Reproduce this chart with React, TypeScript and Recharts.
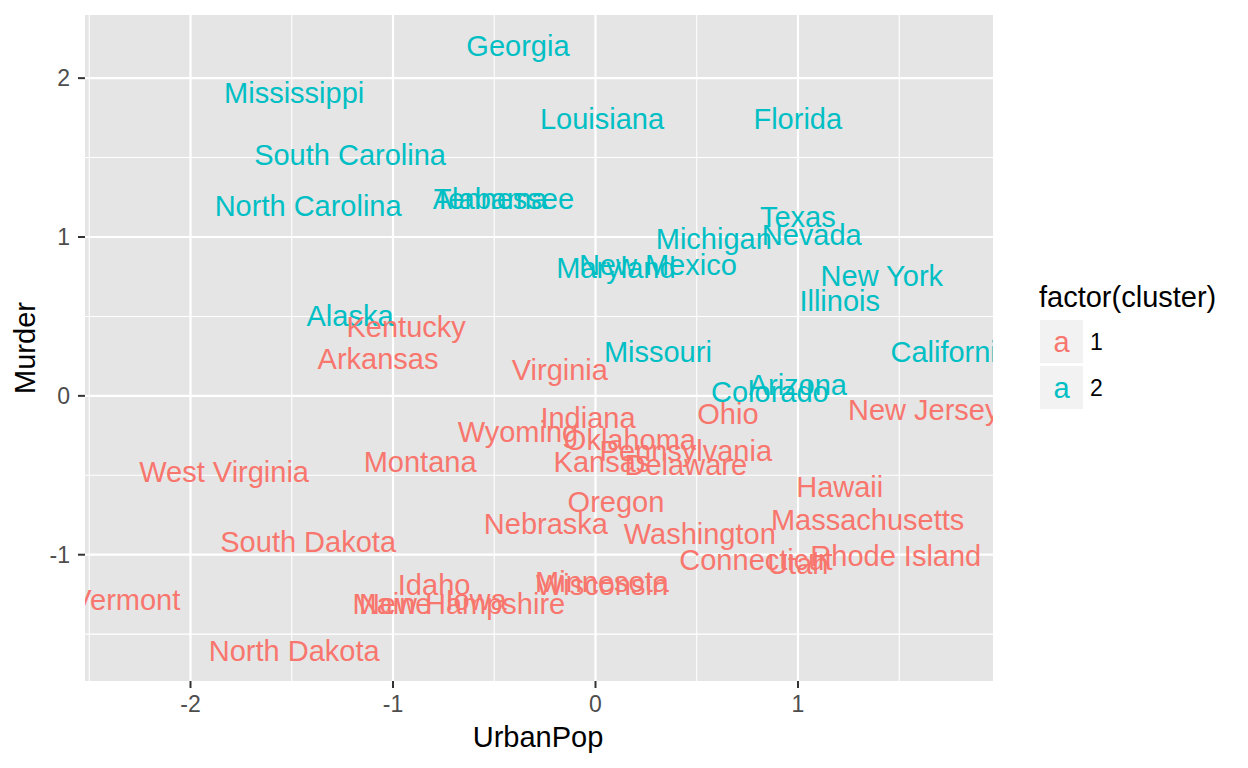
import React from 'react';
import { ScatterChart, Scatter, XAxis, YAxis, CartesianGrid, Customized } from 'recharts';

const states = [
  'Alabama', 'Alaska', 'Arizona', 'Arkansas', 'California', 'Colorado', 'Connecticut', 'Delaware',
  'Florida', 'Georgia', 'Hawaii', 'Idaho', 'Illinois', 'Indiana', 'Iowa', 'Kansas', 'Kentucky',
  'Louisiana', 'Maine', 'Maryland', 'Massachusetts', 'Michigan', 'Minnesota', 'Mississippi',
  'Missouri', 'Montana', 'Nebraska', 'Nevada', 'New Hampshire', 'New Jersey', 'New Mexico',
  'New York', 'North Carolina', 'North Dakota', 'Ohio', 'Oklahoma', 'Oregon', 'Pennsylvania',
  'Rhode Island', 'South Carolina', 'South Dakota', 'Tennessee', 'Texas', 'Utah', 'Vermont',
  'Virginia', 'Washington', 'West Virginia', 'Wisconsin', 'Wyoming',
];

const urbanPop = [
  -0.521, -1.212, 0.999, -1.074, 1.759, 0.861, 0.792, 0.446,
  0.999, -0.383, 1.206, -0.797, 1.206, -0.037, -0.590, 0.032, -0.935,
  0.032, -1.005, 0.101, 1.344, 0.584, 0.032, -1.488,
  0.308, -0.866, -0.245, 1.068, -0.659, 1.621, 0.308,
  1.414, -1.419, -1.488, 0.654, 0.170, 0.101, 0.446,
  1.483, -1.212, -1.419, -0.452, 0.999, 0.999, -2.317,
  -0.176, 0.515, -1.834, 0.032, -0.383,
];

const murder = [
  1.243, 0.508, 0.072, 0.232, 0.278, 0.026, -1.030, -0.434,
  1.748, 2.207, -0.571, -1.191, 0.600, -0.135, -1.283, -0.411, 0.439,
  1.748, -1.306, 0.806, -0.778, 0.990, -1.168, 1.908,
  0.278, -0.411, -0.801, 1.013, -1.306, -0.089, 0.829,
  0.760, 1.197, -1.604, -0.112, -0.273, -0.663, -0.342,
  -1.007, 1.518, -0.916, 1.243, 1.128, -1.053, -1.283,
  0.163, -0.870, -0.479, -1.191, -0.227,
];

const cluster = [
  2, 2, 2, 1, 2, 2, 1, 1,
  2, 2, 1, 1, 2, 1, 1, 1, 1,
  2, 1, 2, 1, 2, 1, 2,
  2, 1, 1, 2, 1, 1, 2,
  2, 2, 1, 1, 1, 1, 1,
  1, 2, 1, 2, 2, 1, 1,
  1, 1, 1, 1, 1,
];

const clusterLabels = ['1', '2'];
const clusterColors = ['#F8766D', '#00BFC4'];

const xMajor = [-2, -1, 0, 1];
const xMinor = [-2.5, -1.5, -0.5, 0.5, 1.5];
const yMajor = [-1, 0, 1, 2];
const yMinor = [-1.5, -0.5, 0.5, 1.5];

const xDomain = [-2.521, 1.963];
const yDomain = [-1.795, 2.3975];

const data = states.map((name, i) => ({
  name,
  urbanPop: urbanPop[i],
  murder: murder[i],
  cluster: cluster[i],
}));

const FONT = '"Liberation Sans", Arial, Helvetica, sans-serif';

const LabelShape = (props: any) => {
  const { cx, cy, payload } = props;
  if (cx == null || cy == null) return null;
  return (
    <text
      x={cx}
      y={cy}
      dy="0.36em"
      textAnchor="middle"
      fontSize={29}
      fontFamily={FONT}
      fill={clusterColors[payload.cluster - 1]}
    >
      {payload.name}
    </text>
  );
};

const Decorations = () => (
  <g fontFamily={FONT}>
    <text x={538} y={747} textAnchor="middle" fontSize={29} fill="#000">UrbanPop</text>
    <text
      x={25}
      y={348}
      dy="0.36em"
      textAnchor="middle"
      fontSize={29}
      fill="#000"
      transform="rotate(-90 25 348)"
    >
      Murder
    </text>
    <text x={1039} y={307} fontSize={29} fill="#000">factor(cluster)</text>
    {clusterLabels.map((lab, i) => {
      const top = 320 + i * 46;
      return (
        <g key={lab}>
          <rect x={1040} y={top} width={43} height={43} fill="#F2F2F2" />
          <text
            x={1061.5}
            y={top + 21.5}
            dy="0.36em"
            textAnchor="middle"
            fontSize={29}
            fill={clusterColors[i]}
          >
            a
          </text>
          <text x={1090} y={top + 21.5} dy="0.36em" fontSize={23} fill="#000">
            {lab}
          </text>
        </g>
      );
    })}
  </g>
);

export default function App() {
  return (
    <div style={{ position: 'absolute', left: 0, top: 0, width: 1248, height: 768, background: '#fff' }}>
      <ScatterChart
        width={1248}
        height={768}
        margin={{ top: 15, right: 255, bottom: 0, left: 0 }}
      >
        <CartesianGrid
          fill="#E5E5E5"
          stroke="#FFFFFF"
          strokeWidth={1.1}
          horizontalValues={yMinor}
          verticalValues={xMinor}
        />
        <CartesianGrid
          stroke="#FFFFFF"
          strokeWidth={2.2}
          horizontalValues={yMajor}
          verticalValues={xMajor}
        />
        <XAxis
          type="number"
          dataKey="urbanPop"
          domain={xDomain}
          ticks={xMajor}
          allowDataOverflow
          height={87}
          axisLine={false}
          tickSize={7}
          tickMargin={8}
          tickLine={{ stroke: '#333333', strokeWidth: 2 }}
          tick={{ fontSize: 23, fill: '#4D4D4D', fontFamily: FONT }}
        />
        <YAxis
          type="number"
          dataKey="murder"
          domain={yDomain}
          ticks={yMajor}
          allowDataOverflow
          width={85}
          axisLine={false}
          tickSize={7}
          tickMargin={8}
          tickLine={{ stroke: '#333333', strokeWidth: 2 }}
          tick={{ fontSize: 23, fill: '#4D4D4D', fontFamily: FONT }}
        />
        <Scatter data={data} shape={<LabelShape />} isAnimationActive={false} />
        <Customized component={<Decorations />} />
      </ScatterChart>
    </div>
  );
}
